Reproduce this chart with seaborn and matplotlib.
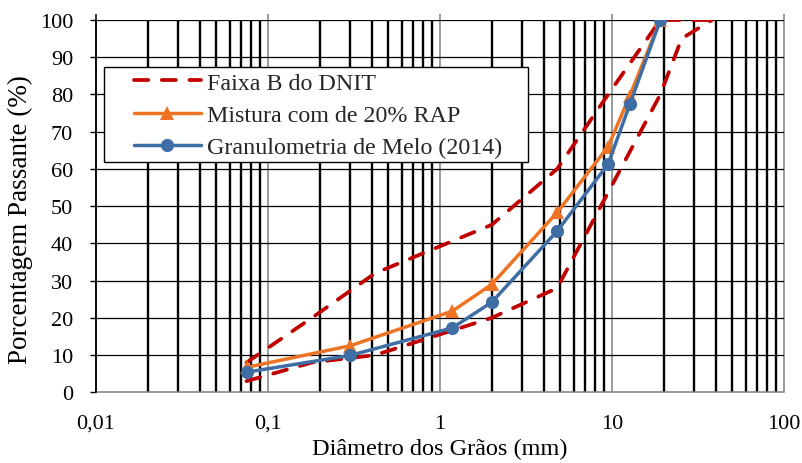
import matplotlib
matplotlib.use("Agg")
import matplotlib.pyplot as plt
import matplotlib.patches as mpatches
import seaborn as sns
import pandas as pd
from matplotlib.ticker import FixedLocator, LogLocator, NullFormatter

# DNIT band B limits (sieve opening in mm, % passing)
sieve_upper = [0.075, 0.18, 0.42, 2.0, 4.8, 9.5, 19.1, 25.4, 38.1]
faixa_b_upper = [8, 20, 32, 45, 60, 80, 100, 100, 100]
sieve_lower = [0.075, 0.18, 0.42, 2.0, 4.8, 19.1, 25.4, 38.1]
faixa_b_lower = [3, 8, 10, 20, 28, 80, 95, 100]

# Gradation curves
sieve_mix = [0.075, 0.3, 1.18, 2.0, 4.8, 9.5, 12.7, 19.1]
mistura_rap = [6.7, 12.5, 21.8, 29.0, 48.3, 66.0, 79.7, 100]
melo_2014 = [5.4, 9.9, 17.3, 24.2, 43.3, 61.3, 77.4, 100]

x_tick_values = [0.01, 0.1, 1, 10, 100]
x_tick_labels = ["0,01", "0,1", "1", "10", "100"]
y_tick_values = list(range(0, 101, 10))

RED = "#C00000"
ORANGE = "#EC7424"
BLUE = "#3F6EA5"

sns.set_theme(style="white")
plt.rcParams["font.family"] = ["Liberation Serif", "DejaVu Serif"]

W, H = 803, 464
fig = plt.figure(figsize=(W / 100, H / 100), dpi=100)
x0, x1, y_top, y_bot = 96, 784, 21, 393.3
ax = fig.add_axes([x0 / W, 1 - y_bot / H, (x1 - x0) / W, (y_bot - y_top) / H])
ax.set_xscale("log")
ax.set_xlim(0.01, 100)
ax.set_ylim(0, 100)

# grid: thick black minor verticals, thin grey decade lines, black horizontals
minor_x = [m * 10.0 ** e for e in range(-2, 2) for m in range(2, 10)]
ax.vlines(minor_x, 0, 100, colors="black", lw=1.7, zorder=1)
ax.vlines(x_tick_values[1:], 0, 101.6, colors="#808080", lw=1.1, zorder=1, clip_on=False)
ax.vlines([x_tick_values[0]], 0, 101.6, colors="black", lw=1.1, zorder=6, clip_on=False)
ax.hlines(y_tick_values[1:], 0.01, 100, colors="black", lw=0.9, zorder=1)

df_up = pd.DataFrame({"d": sieve_upper, "p": faixa_b_upper})
df_lo = pd.DataFrame({"d": sieve_lower, "p": faixa_b_lower})
df_mix = pd.DataFrame({"d": sieve_mix, "mix": mistura_rap, "melo": melo_2014})

dash = (0, (3.8, 3.6))
sns.lineplot(data=df_up, x="d", y="p", ax=ax, color=RED, lw=2.7, linestyle=dash,
             label="Faixa B do DNIT", errorbar=None, zorder=3)
sns.lineplot(data=df_lo, x="d", y="p", ax=ax, color=RED, lw=2.7, linestyle=dash,
             label="_nolegend_", errorbar=None, zorder=3)
sns.lineplot(data=df_mix, x="d", y="mix", ax=ax, color=ORANGE, lw=2.5, marker="^",
             markersize=10, markeredgewidth=0, label="Mistura com de 20% RAP",
             errorbar=None, zorder=4)
sns.lineplot(data=df_mix, x="d", y="melo", ax=ax, color=BLUE, lw=2.5, marker="o",
             markersize=9.5, markeredgewidth=0, label="Granulometria de Melo (2014)",
             errorbar=None, zorder=5)

for line in ax.get_lines():
    line.set_dash_capstyle("round")

# axes and ticks
for s in ("top", "right"):
    ax.spines[s].set_visible(False)
ax.spines["left"].set_color("black")
ax.spines["left"].set_linewidth(1.1)
ax.spines["left"].set_zorder(6)
ax.spines["bottom"].set_color("#808080")
ax.spines["bottom"].set_linewidth(1.1)

ax.xaxis.set_major_locator(FixedLocator(x_tick_values))
ax.set_xticklabels(x_tick_labels)
ax.xaxis.set_minor_locator(LogLocator(base=10, subs=range(2, 10)))
ax.xaxis.set_minor_formatter(NullFormatter())
ax.set_yticks(y_tick_values)
ax.tick_params(axis="x", which="both", length=0, pad=15.5, labelsize=16, colors="black")
ax.tick_params(axis="y", which="major", length=4.5, width=1, direction="out",
               left=True, pad=12, labelsize=16, colors="black")
ax.grid(False)

ax.set_xlabel("Diâmetro dos Grãos (mm)", fontsize=17.5, color="black")
ax.set_ylabel("Porcentagem Passante (%)", fontsize=19.5, color="black")
ax.xaxis.set_label_coords((440 - x0) / (x1 - x0), (y_bot - 439) / (y_bot - y_top))
ax.yaxis.set_label_coords((33 - x0) / (x1 - x0), (y_bot - 220) / (y_bot - y_top))

# legend with its own frame box
box_l, box_t, box_r, box_b = 104, 68, 528, 163
frame = mpatches.Rectangle((box_l / W, 1 - box_b / H), (box_r - box_l) / W,
                           (box_b - box_t) / H, transform=fig.transFigure,
                           facecolor="white", edgecolor="black", lw=1.0, zorder=9)
fig.add_artist(frame)
leg = ax.legend(loc="upper left",
                bbox_to_anchor=((129 - x0) / (x1 - x0), (y_bot - 68) / (y_bot - y_top)),
                borderaxespad=0, frameon=False, fontsize=17.3, handlelength=2.8,
                handletextpad=0.25, labelspacing=0.44, borderpad=0.2)
leg.set_zorder(10)
fig.add_artist(leg)

fig.savefig("out.png", dpi=100)
